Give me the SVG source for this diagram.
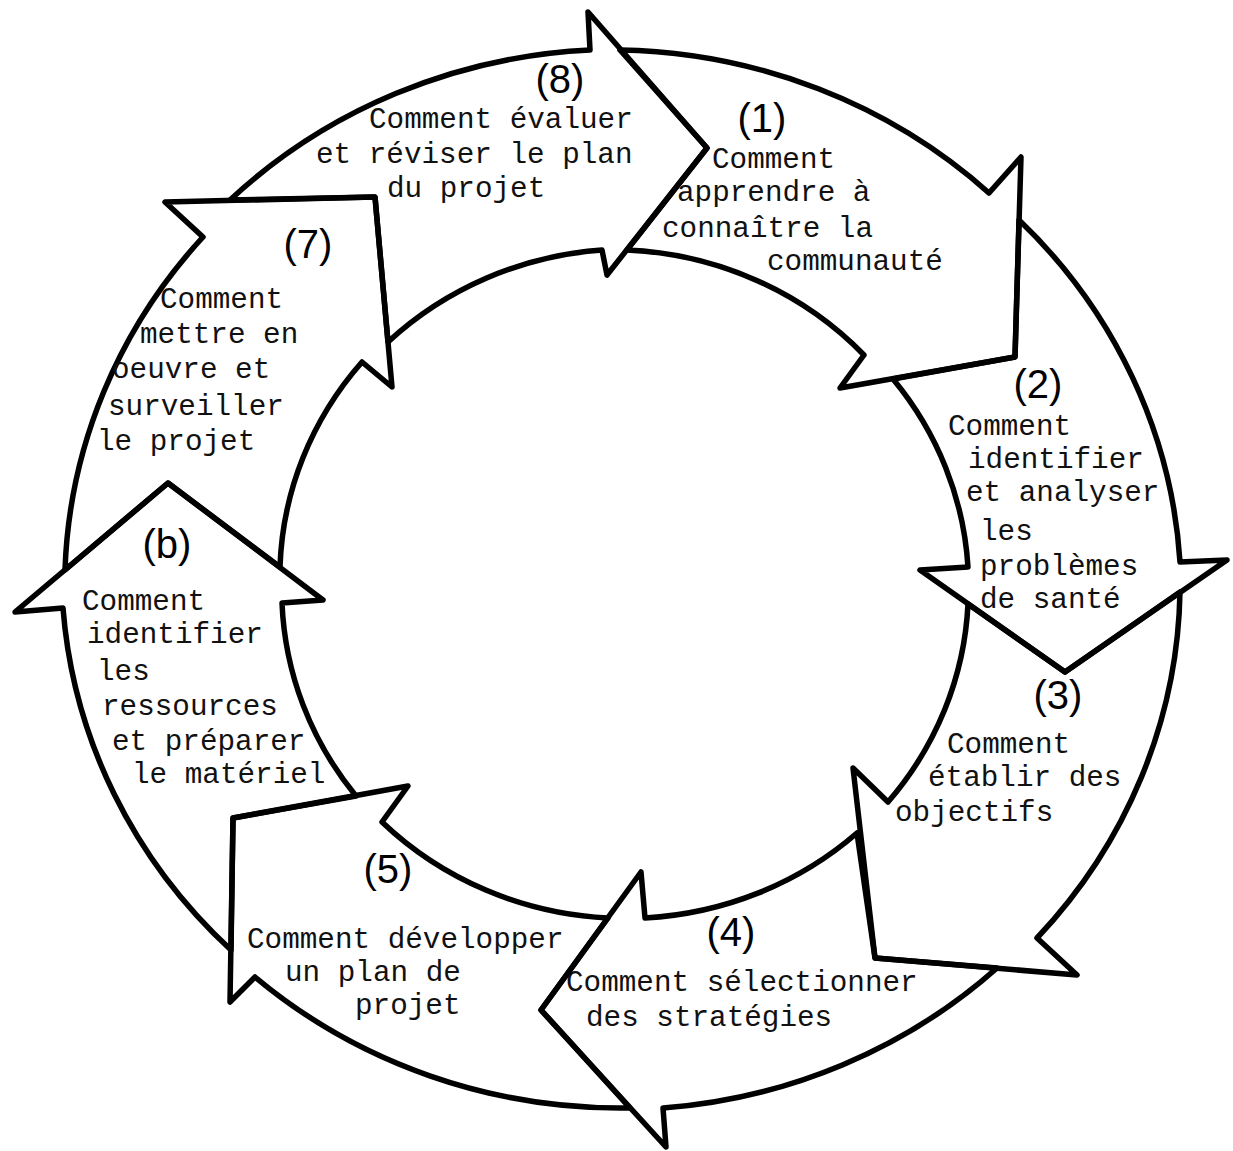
<svg xmlns="http://www.w3.org/2000/svg" width="1233" height="1151" viewBox="0 0 1233 1151">
<style>
.shape{fill:none;stroke:#000;stroke-width:5.5;stroke-linejoin:round;stroke-linecap:round}
.t{font-family:"Liberation Mono","Courier New",monospace;font-size:29.3px;fill:#111}
.n{font-family:"Liberation Sans",Arial,sans-serif;font-size:40px;fill:#000;text-anchor:middle}
</style>
<rect width="1233" height="1151" fill="#fff"/>
<g id="step-1">
<path class="shape" d="M620,50 A555,530 0 0 1 989,193 L1021,157 L1015,357 L840,388 L864,355 A346,333 0 0 0 627,250 L707,148 Z"/>
<text class="n" x="762" y="132">(1)</text>
<text class="t" x="712" y="168">Comment</text>
<text class="t" x="677" y="201">apprendre à</text>
<text class="t" x="662" y="237">connaître la</text>
<text class="t" x="767" y="270">communauté</text>
</g>
<g id="step-2">
<path class="shape" d="M1019,220 A555,530 0 0 1 1180,562 L1227,560 L1065,672 L920,570 L968,567 A346,333 0 0 0 893,379 L1015,357 Z"/>
<text class="n" x="1038" y="398">(2)</text>
<text class="t" x="948" y="435">Comment</text>
<text class="t" x="968" y="468">identifier</text>
<text class="t" x="966" y="501">et analyser</text>
<text class="t" x="980" y="540">les</text>
<text class="t" x="980" y="575">problèmes</text>
<text class="t" x="980" y="608">de santé</text>
</g>
<g id="step-3">
<path class="shape" d="M1180,592 A555,530 0 0 1 1037,938 L1077,975 L875,958 L853,768 L888,802 A346,333 0 0 0 968,604 L1065,672 Z"/>
<text class="n" x="1058" y="709">(3)</text>
<text class="t" x="947" y="753">Comment</text>
<text class="t" x="928" y="786">établir des</text>
<text class="t" x="895" y="821">objectifs</text>
</g>
<g id="step-4">
<path class="shape" d="M997,968 A555,530 0 0 1 663,1108 L666,1147 L541,1010 L641,872 L645,918 A346,333 0 0 0 857,833 L875,958 Z"/>
<text class="n" x="731" y="946">(4)</text>
<text class="t" x="566" y="991">Comment sélectionner</text>
<text class="t" x="586" y="1026">des stratégies</text>
</g>
<g id="step-5">
<path class="shape" d="M630,1108 A555,530 0 0 1 255,977 L230,1002 L233,818 L408,786 L382,822 A346,333 0 0 0 608,918 L541,1010 Z"/>
<text class="n" x="388" y="883">(5)</text>
<text class="t" x="247" y="948">Comment développer</text>
<text class="t" x="285" y="981">un plan de</text>
<text class="t" x="355" y="1014">projet</text>
</g>
<g id="step-6">
<path class="shape" d="M231,950 A555,530 0 0 1 63,608 L15,612 L168,483 L323,600 L282,603 A346,333 0 0 0 356,796 L233,818 Z"/>
<text class="n" x="167" y="558">(b)</text>
<text class="t" x="82" y="610">Comment</text>
<text class="t" x="87" y="643">identifier</text>
<text class="t" x="97" y="680">les</text>
<text class="t" x="102" y="715">ressources</text>
<text class="t" x="112" y="750">et préparer</text>
<text class="t" x="132" y="783">le matériel</text>
</g>
<g id="step-7">
<path class="shape" d="M65,570 A555,530 0 0 1 203,237 L165,202 L375,197 L392,387 L362,362 A346,333 0 0 0 280,567 L168,483 Z"/>
<text class="n" x="308" y="258">(7)</text>
<text class="t" x="160" y="308">Comment</text>
<text class="t" x="140" y="343">mettre en</text>
<text class="t" x="112" y="378">oeuvre et</text>
<text class="t" x="108" y="415">surveiller</text>
<text class="t" x="97" y="450">le projet</text>
</g>
<g id="step-8">
<path class="shape" d="M230,200 A555,530 0 0 1 590,50 L588,12 L707,148 L607,275 L602,250 A346,333 0 0 0 388,342 L375,197 Z"/>
<text class="n" x="560" y="93">(8)</text>
<text class="t" x="369" y="128">Comment évaluer</text>
<text class="t" x="316" y="163">et réviser le plan</text>
<text class="t" x="387" y="197">du projet</text>
</g>
</svg>
